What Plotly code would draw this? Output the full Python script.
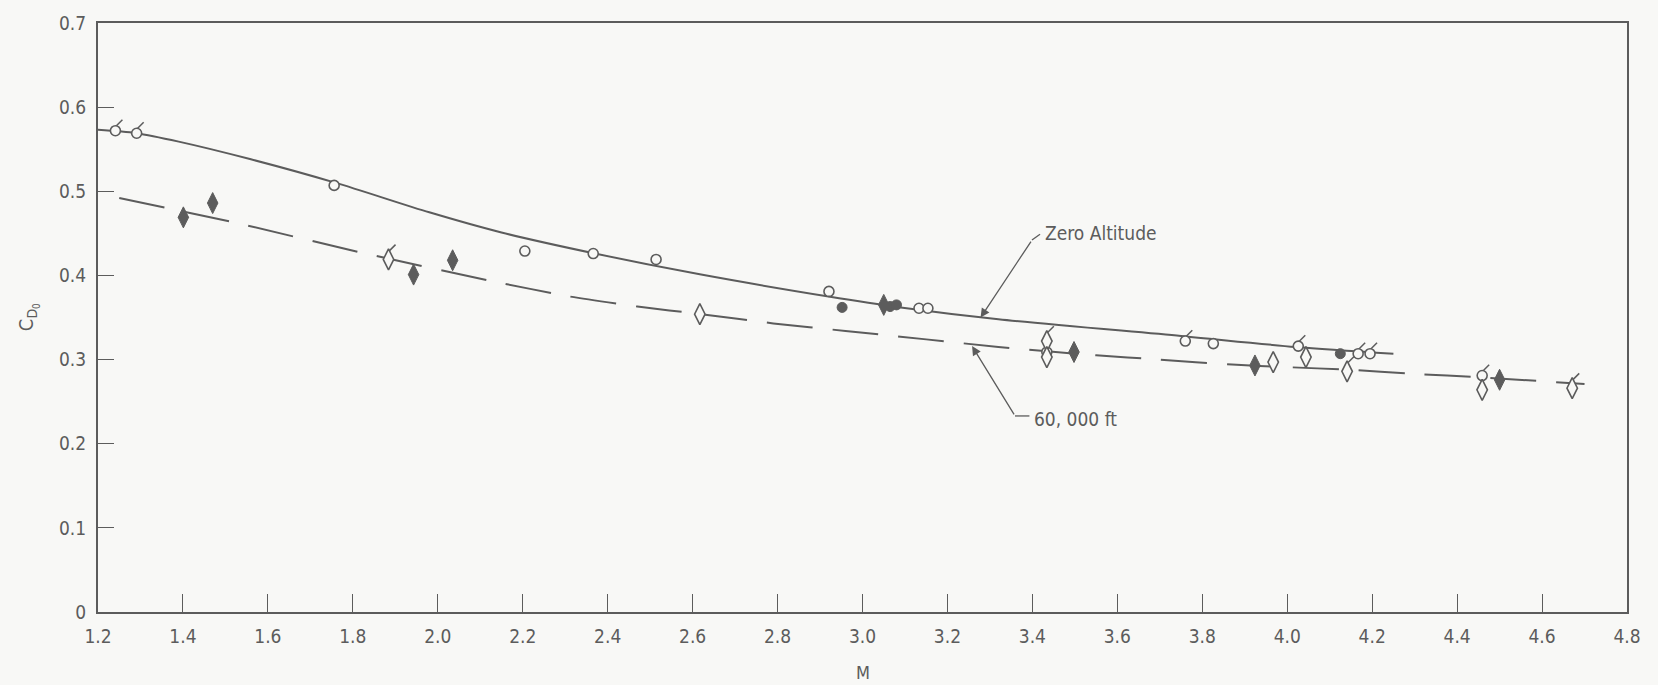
import plotly.graph_objects as go

# ---- data ----
zero_alt_M = [1.20, 1.29, 1.39, 1.56, 1.76, 1.98, 2.15, 2.37, 2.62, 2.92, 3.09, 3.32, 3.75, 4.02, 4.25]
zero_alt_CD = [0.573, 0.569, 0.559, 0.538, 0.510, 0.475, 0.451, 0.426, 0.401, 0.375, 0.362, 0.348, 0.328, 0.315, 0.307]

alt60_M = [1.25, 1.52, 1.83, 2.13, 2.31, 2.47, 2.62, 2.79, 2.96, 3.15, 3.32, 3.55, 3.70, 3.87, 4.00, 4.14, 4.30, 4.45, 4.70]
alt60_CD = [0.492, 0.463, 0.426, 0.393, 0.375, 0.363, 0.354, 0.343, 0.334, 0.324, 0.315, 0.305, 0.300, 0.294, 0.291, 0.288, 0.283, 0.279, 0.271]

open_circle_M = [1.241, 1.291, 1.756, 2.205, 2.366, 2.514, 2.921, 3.133, 3.154, 3.434, 3.760, 3.826, 4.026, 4.167, 4.195, 4.459]
open_circle_CD = [0.572, 0.569, 0.507, 0.429, 0.426, 0.419, 0.381, 0.361, 0.361, 0.309, 0.322, 0.319, 0.316, 0.307, 0.307, 0.281]

filled_circle_M = [2.952, 3.065, 3.080, 4.125]
filled_circle_CD = [0.362, 0.363, 0.365, 0.307]

filled_diamond_M = [1.401, 1.470, 1.943, 2.035, 3.050, 3.498, 3.924, 4.500]
filled_diamond_CD = [0.469, 0.486, 0.401, 0.418, 0.365, 0.309, 0.293, 0.276]

open_diamond_M = [1.884, 2.617, 3.434, 3.434, 3.967, 4.044, 4.141, 4.459, 4.671]
open_diamond_CD = [0.419, 0.354, 0.322, 0.303, 0.297, 0.303, 0.286, 0.264, 0.266]

# points whose symbol carries a small flag
flag_circle_M = [1.241, 1.291, 3.760, 4.026, 4.167, 4.195, 4.459]
flag_circle_CD = [0.572, 0.569, 0.322, 0.316, 0.307, 0.307, 0.281]
flag_diamond_M = [1.884, 3.434, 4.141, 4.671]
flag_diamond_CD = [0.419, 0.322, 0.286, 0.266]

x_ticks = [1.2, 1.4, 1.6, 1.8, 2.0, 2.2, 2.4, 2.6, 2.8, 3.0, 3.2, 3.4, 3.6, 3.8, 4.0, 4.2, 4.4, 4.6, 4.8]
x_ticktext = ["1.2", "1.4", "1.6", "1.8", "2.0", "2.2", "2.4", "2.6", "2.8", "3.0", "3.2", "3.4",
              "3.6", "3.8", "4.0", "4.2", "4.4", "4.6", "4.8"]
y_ticks = [0, 0.1, 0.2, 0.3, 0.4, 0.5, 0.6, 0.7]
y_ticktext = ["0", "0.1", "0.2", "0.3", "0.4", "0.5", "0.6", "0.7"]

INK = "#5c5c5c"
BG = "#f8f8f6"
FONT = "DejaVu Sans Condensed, DejaVu Sans, sans-serif"

X_RANGE = [1.2, 4.8]
Y_RANGE = [0, 0.7]
PLOT_W_PX = 1658 - 98 - 31
PLOT_H_PX = 685 - 14 - 73
PX_X = (X_RANGE[1] - X_RANGE[0]) / PLOT_W_PX
PX_Y = (Y_RANGE[1] - Y_RANGE[0]) / PLOT_H_PX

fig = go.Figure()

fig.add_trace(go.Scatter(x=zero_alt_M, y=zero_alt_CD, mode="lines",
                         line=dict(color=INK, width=2, shape="spline", smoothing=0.8),
                         showlegend=False, hoverinfo="skip"))
fig.add_trace(go.Scatter(x=alt60_M, y=alt60_CD, mode="lines",
                         line=dict(color=INK, width=2, dash="46px,20px", shape="spline", smoothing=0.6),
                         showlegend=False, hoverinfo="skip"))

# flags (short ticks rising from the top-right of the symbol)
fig.add_trace(go.Scatter(x=[m + 3 * PX_X for m in flag_circle_M], y=[c + 7 * PX_Y for c in flag_circle_CD],
                         mode="markers", marker=dict(symbol="line-ne", size=8, line=dict(color=INK, width=1.5)),
                         showlegend=False, hoverinfo="skip"))
fig.add_trace(go.Scatter(x=[m + 3 * PX_X for m in flag_diamond_M], y=[c + 11 * PX_Y for c in flag_diamond_CD],
                         mode="markers", marker=dict(symbol="line-ne", size=8, line=dict(color=INK, width=1.5)),
                         showlegend=False, hoverinfo="skip"))

fig.add_trace(go.Scatter(x=open_circle_M, y=open_circle_CD, mode="markers",
                         marker=dict(symbol="circle", size=10, color=BG, line=dict(color=INK, width=1.6)),
                         showlegend=False))
fig.add_trace(go.Scatter(x=filled_circle_M, y=filled_circle_CD, mode="markers",
                         marker=dict(symbol="circle", size=10, color=INK, line=dict(color=INK, width=1)),
                         showlegend=False))
fig.add_trace(go.Scatter(x=open_diamond_M, y=open_diamond_CD, mode="markers",
                         marker=dict(symbol="diamond-tall", size=15, color=BG, line=dict(color=INK, width=1.6)),
                         showlegend=False))
fig.add_trace(go.Scatter(x=filled_diamond_M, y=filled_diamond_CD, mode="markers",
                         marker=dict(symbol="diamond-tall", size=15, color=INK, line=dict(color=INK, width=1)),
                         showlegend=False))

# leader lines and labels
fig.add_annotation(x=3.278, y=0.350, ax=3.399, ay=0.442, xref="x", yref="y", axref="x", ayref="y",
                   text="", showarrow=True, arrowhead=2, arrowsize=1.4, arrowwidth=1.3, arrowcolor=INK)
fig.add_shape(type="line", x0=3.399, y0=0.442, x1=3.418, y1=0.449, xref="x", yref="y",
              line=dict(color=INK, width=1.3))
fig.add_annotation(x=3.425, y=0.451, xref="x", yref="y", text="Zero Altitude", showarrow=False,
                   xanchor="left", yanchor="middle", font=dict(family=FONT, size=19, color=INK))

fig.add_annotation(x=3.258, y=0.316, ax=3.359, ay=0.233, xref="x", yref="y", axref="x", ayref="y",
                   text="", showarrow=True, arrowhead=2, arrowsize=1.4, arrowwidth=1.3, arrowcolor=INK)
fig.add_shape(type="line", x0=3.359, y0=0.233, x1=3.393, y1=0.233, xref="x", yref="y",
              line=dict(color=INK, width=1.3))
fig.add_annotation(x=3.398, y=0.229, xref="x", yref="y", text="60, 000 ft", showarrow=False,
                   xanchor="left", yanchor="middle", font=dict(family=FONT, size=19, color=INK))

# axis titles
fig.add_annotation(x=0.5, y=-0.102, xref="paper", yref="paper", text="M", showarrow=False,
                   xanchor="center", yanchor="middle", font=dict(family=FONT, size=18, color=INK))
fig.add_annotation(x=-0.046, y=0.5, xref="paper", yref="paper", text="C<sub>D<sub>0</sub></sub>",
                   showarrow=False, textangle=-90, xanchor="center", yanchor="middle",
                   font=dict(family=FONT, size=20, color=INK))

fig.update_layout(
    width=1658, height=685,
    margin=dict(l=98, r=31, t=14, b=73),
    paper_bgcolor=BG, plot_bgcolor=BG,
    font=dict(family=FONT, size=19, color=INK),
    xaxis=dict(range=X_RANGE, tickvals=x_ticks, ticktext=x_ticktext, ticks="inside", ticklen=18,
               tickwidth=1.3, tickcolor=INK, showgrid=False, zeroline=False, showline=True,
               linecolor=INK, linewidth=2.2, mirror=True, ticklabelstandoff=6,
               tickfont=dict(family=FONT, size=19, color=INK)),
    yaxis=dict(range=Y_RANGE, tickvals=y_ticks, ticktext=y_ticktext, ticks="inside", ticklen=16,
               tickwidth=1.3, tickcolor=INK, showgrid=False, zeroline=False, showline=True,
               linecolor=INK, linewidth=2.2, mirror=True, ticklabelstandoff=6,
               tickfont=dict(family=FONT, size=19, color=INK)),
)

fig.write_html("out.html", config={"displayModeBar": False},
               post_script="document.body.style.margin='0';document.body.style.background='" + BG + "';")
